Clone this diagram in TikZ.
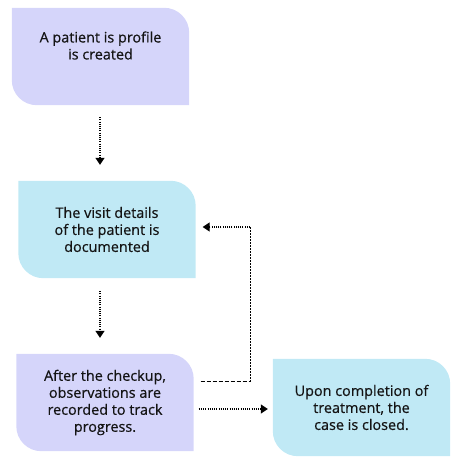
\documentclass[tikz,border=0pt]{standalone}
\usepackage{fontspec}
\setmainfont{Open Sans}
\newfontfamily\cardfont{Open Sans}[FakeBold=0.5]
\usetikzlibrary{calc,positioning,arrows.meta,backgrounds}
\definecolor{Lav}{HTML}{D5D5FA}
\definecolor{Sky}{HTML}{C0E9F5}
\definecolor{Ink}{HTML}{141414}

\begin{document}
\begin{tikzpicture}[x=1pt,y=1pt,
  card/.style={minimum width=177pt,minimum height=97pt,inner sep=0pt,align=center,text=Ink,font=\cardfont\fontsize{14.4}{17}\selectfont},
  flow/.style={-{Triangle[length=7pt,width=9pt]},line width=1.1pt,dash pattern=on 1.1pt off 1.1pt},
  loop/.style={line width=1pt,dash pattern=on #1}
]
\useasboundingbox (0,0) rectangle (466,465);
\node[card] (p1) at (100.5,408.5) {A patient is profile\\is created\\\strut};
\node[card] (p2) at (107,235.5) {The visit details\\of the patient is\\documented};
\node[card] (p3) at (105,62.5) {After the checkup,\\observations are\\recorded to track\\progress.};
\node[card] (p4) at (361.5,57.5) {Upon completion of\\treatment, the\\case is closed.};
% card shapes: two rounded corners each
\begin{scope}[on background layer]
\foreach \n/\c in {p1/Lav,p2/Sky,p3/Lav,p4/Sky}
  \fill[\c] (\n.north west) -- ([xshift=-25pt]\n.north east) arc[start angle=90,end angle=0,radius=25pt]
    -- (\n.south east) -- ([xshift=25pt]\n.south west) arc[start angle=270,end angle=180,radius=25pt] -- cycle;
\end{scope}
\coordinate (k1) at (250,83);
\coordinate (k2) at (250,238);
\draw[flow] ([xshift=-0.5pt,yshift=-12pt]p1.south) -- ([xshift=-7pt,yshift=16pt]p2.north);
\draw[flow] ([xshift=-7pt,yshift=-13pt]p2.south) -- ([xshift=-5pt,yshift=16pt]p3.north);
\draw[loop={4pt off 2pt}] ($(p3.east|-k1)+(7,0)$) -- (k1);
\draw[loop={2pt off 1pt}] (k1) -- (k2);
\draw[flow] (k2) -- ($(p2.east|-k2)+(7,0)$);
\draw[flow] ($(p3.east|-p4.west)+(5,-1.5)$) -- ($(p4.west)+(-5,-1.5)$);
\end{tikzpicture}
\end{document}
